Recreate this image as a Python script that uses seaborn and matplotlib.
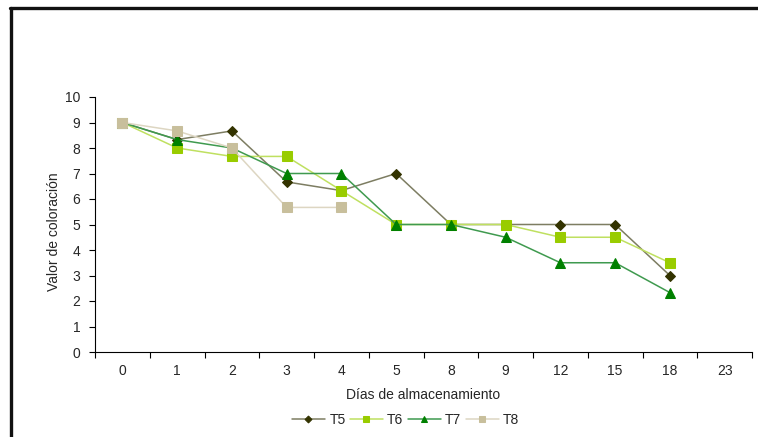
import matplotlib
matplotlib.use("Agg")
import matplotlib.pyplot as plt
from matplotlib.lines import Line2D
import numpy as np
import pandas as pd
import seaborn as sns

# Storage days (categorical axis) and colour scores per treatment
dias = ["0", "1", "2", "3", "4", "5", "8", "9", "12", "15", "18", "23"]
t5 = [9, 8.33, 8.67, 6.67, 6.33, 7, 5, 5, 5, 5, 3]
t6 = [9, 8, 7.67, 7.67, 6.33, 5, 5, 5, 4.5, 4.5, 3.5]
t7 = [9, 8.33, 8, 7, 7, 5, 5, 4.5, 3.5, 3.5, 2.33]
t8 = [9, 8.67, 8, 5.67, 5.67]
series = {"T5": t5, "T6": t6, "T7": t7, "T8": t8}

styles = {
    "T5": dict(line="#7d7d62", face="#333300", marker="D", ms=5),
    "T6": dict(line="#bfe060", face="#99cc00", marker="s", ms=6.5),
    "T7": dict(line="#3f9a4f", face="#008000", marker="^", ms=7),
    "T8": dict(line="#ddd6c2", face="#c8bf9c", marker="s", ms=6.5),
}

sns.set_style("white")
plt.rcParams["font.family"] = ["Liberation Sans", "DejaVu Sans"]
FS = 10

fig = plt.figure(figsize=(7.58, 4.37), dpi=100)
ax = fig.add_axes([95 / 758, 1 - 352 / 437, 657 / 758, 255 / 437])

for name, vals in series.items():
    df = pd.DataFrame({"pos": np.arange(len(vals)), "valor": vals})
    st = styles[name]
    sns.lineplot(data=df, x="pos", y="valor", ax=ax, color=st["line"],
                 linewidth=1.1, marker=st["marker"], markersize=st["ms"],
                 markerfacecolor=st["face"], markeredgecolor=st["face"],
                 label=name)

ax.set_xlim(-0.5, len(dias) - 0.5)
ax.set_ylim(0, 10)
ax.set_yticks(range(0, 11))
ax.tick_params(axis="y", direction="out", length=4.5, width=0.8, color="black",
               labelsize=FS, pad=6, left=True)

# category boundaries as major ticks, labels centred on minor ticks
ax.set_xticks(np.arange(-0.5, len(dias), 1.0))
ax.set_xticklabels([])
ax.set_xticks(np.arange(len(dias)), minor=True)
ax.set_xticklabels(dias, minor=True)
ax.tick_params(axis="x", which="major", direction="out", length=4.5, width=0.8,
               color="black", bottom=True)
ax.tick_params(axis="x", which="minor", length=0, labelsize=FS, pad=8.5)

for side in ["top", "right"]:
    ax.spines[side].set_visible(False)
for side in ["left", "bottom"]:
    ax.spines[side].set_color("black")
    ax.spines[side].set_linewidth(0.8)

ax.set_xlabel("Días de almacenamiento", fontsize=FS)
ax.xaxis.set_label_coords(0.5, -(395 - 352) / 255, transform=ax.transAxes)
ax.xaxis.label.set_va("center")
ax.set_ylabel("Valor de coloración", fontsize=FS)
ax.yaxis.set_label_coords(-(95 - 54) / 657, 0.47)
ax.yaxis.label.set_va("center")

handles, labels = ax.get_legend_handles_labels()
ax.get_legend().remove()
fig.legend(handles, labels, loc="center", bbox_to_anchor=(0.535, 1 - 420 / 437),
           ncol=4, frameon=False, fontsize=FS, handlelength=2.4,
           columnspacing=0.3, handletextpad=0.3, markerscale=0.7)

# frame lines on the left and top of the figure
fig.add_artist(Line2D([11 / 758, 11 / 758], [0, 1 - 7.5 / 437],
                      color="#111111", linewidth=2.4, transform=fig.transFigure))
fig.add_artist(Line2D([10 / 758, 1], [1 - 7.5 / 437, 1 - 7.5 / 437],
                      color="#111111", linewidth=2.4, transform=fig.transFigure))

fig.savefig("out.png", dpi=100)
